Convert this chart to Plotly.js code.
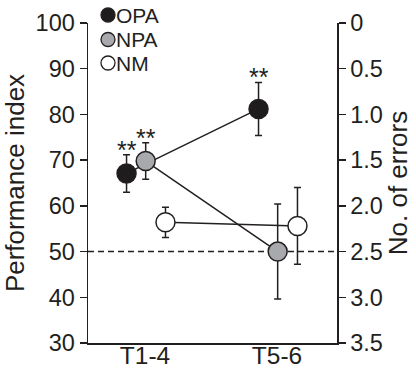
<!DOCTYPE html>
<html>
<head>
<meta charset="utf-8">
<script src="https://cdn.plot.ly/plotly-3.0.1.min.js"></script>
<style>html,body{margin:0;padding:0;background:#fff;}#chart{width:416px;height:368px;}</style>
</head>
<body>
<div id="chart"></div>
<script>
// ---- data ----
const categories = ['T1-4', 'T5-6'];
const categoryPos = [0, 1];
const groupNames = ['OPA', 'NPA', 'NM'];
const groupOffsets = [-0.14, 0.005, 0.155];
const opaValues = [67.1, 81.2];
const opaErrors = [4.1, 5.8];
const npaValues = [69.8, 50.0];
const npaErrors = [4.0, 10.4];
const nmValues = [56.4, 55.6];
const nmErrors = [3.3, 8.4];
const chanceLevel = 50;
const leftTickVals = [30, 40, 50, 60, 70, 80, 90, 100];
const rightTickVals = [0, 0.5, 1.0, 1.5, 2.0, 2.5, 3.0, 3.5];
const rightTickText = ['0', '0.5', '1.0', '1.5', '2.0', '2.5', '3.0', '3.5'];
const significance = [
  {group: 0, cat: 0, text: '**'},
  {group: 1, cat: 0, text: '**'},
  {group: 0, cat: 1, text: '**'}
];

// ---- style ----
const ink = '#231f20';
const fills = ['#1f1c1d', '#a7a9ac', '#ffffff'];
const font = 'Liberation Sans, Arial, Helvetica, sans-serif';
const values = [opaValues, npaValues, nmValues];
const errors = [opaErrors, npaErrors, nmErrors];
const xRange = [-0.432, 1.4545];

const traces = groupNames.map((name, g) => ({
  type: 'scatter',
  mode: 'lines+markers',
  name: name,
  x: categoryPos.map(p => p + groupOffsets[g]),
  y: values[g],
  error_y: {type: 'data', array: errors[g], visible: true, color: ink, thickness: 1.5, width: 3.5},
  line: {color: ink, width: 1.5},
  marker: {size: 19, color: fills[g], line: {color: ink, width: 1.5}},
  cliponaxis: false,
  showlegend: false
}));

// dashed chance line across the plot
traces.unshift({
  type: 'scatter', mode: 'lines',
  x: xRange, y: [chanceLevel, chanceLevel],
  line: {color: ink, width: 1.5, dash: '6px,4px'},
  hoverinfo: 'skip', showlegend: false
});
// invisible trace on the right axis
traces.push({type: 'scatter', mode: 'markers', x: [0], y: [2.5], yaxis: 'y2',
  marker: {opacity: 0}, hoverinfo: 'skip', showlegend: false});

// legend drawn as shapes + annotations
const plotL = 88, plotR = 337, plotT = 23, plotB = 343;
const px2x = p => (p - plotL) / (plotR - plotL);
const px2y = p => (plotB - p) / (plotB - plotT);
const legendY = [15, 39.5, 63];
const shapes = groupNames.map((n, g) => ({
  type: 'circle', xref: 'paper', yref: 'paper',
  xsizemode: 'pixel', ysizemode: 'pixel',
  xanchor: px2x(108), yanchor: px2y(legendY[g]),
  x0: -7, x1: 7, y0: -7, y1: 7,
  fillcolor: fills[g], line: {color: ink, width: 1.3}
}));
const annotations = groupNames.map((n, g) => ({
  xref: 'paper', yref: 'paper', x: px2x(113.5), y: px2y(legendY[g]),
  xanchor: 'left', yanchor: 'middle', text: n, showarrow: false,
  font: {family: font, size: 21, color: ink}
}));
significance.forEach(s => {
  annotations.push({
    x: categoryPos[s.cat] + groupOffsets[s.group],
    y: values[s.group][s.cat] + errors[s.group][s.cat],
    xref: 'x', yref: 'y', xanchor: 'center', yanchor: 'bottom',
    yshift: -11, text: s.text, showarrow: false,
    font: {family: font, size: 25, color: ink}
  });
});

const layout = {
  width: 416, height: 368,
  margin: {l: plotL, r: 416 - plotR, t: plotT, b: 368 - plotB, pad: 0},
  paper_bgcolor: '#ffffff', plot_bgcolor: '#ffffff',
  font: {family: font, color: ink, size: 24},
  showlegend: false,
  xaxis: {
    range: xRange, tickvals: categoryPos, ticktext: categories,
    showgrid: false, zeroline: false, showline: true, linecolor: ink, linewidth: 1.5,
    ticks: '', ticklabelstandoff: -10,
    tickfont: {family: font, size: 24.5, color: ink}
  },
  yaxis: {
    range: [30, 100], tickvals: leftTickVals,
    showgrid: false, zeroline: false, showline: true, linecolor: ink, linewidth: 1.5,
    ticks: 'outside', ticklen: 7, tickwidth: 1.5, tickcolor: ink,
    tickfont: {family: font, size: 23.5, color: ink},
    title: {text: 'Performance index', font: {family: font, size: 26, color: ink}, standoff: 6}
  },
  yaxis2: {
    overlaying: 'y', side: 'right', range: [3.5, 0],
    tickvals: rightTickVals, ticktext: rightTickText,
    showgrid: false, zeroline: false, showline: true, linecolor: ink, linewidth: 1.5,
    ticks: 'outside', ticklen: 7, tickwidth: 1.5, tickcolor: ink,
    tickfont: {family: font, size: 23.5, color: ink},
    title: {text: 'No. of errors', font: {family: font, size: 26, color: ink}, standoff: 4}
  },
  shapes: shapes,
  annotations: annotations
};

Plotly.newPlot('chart', traces, layout, {displayModeBar: false, staticPlot: true});
</script>
</body>
</html>
